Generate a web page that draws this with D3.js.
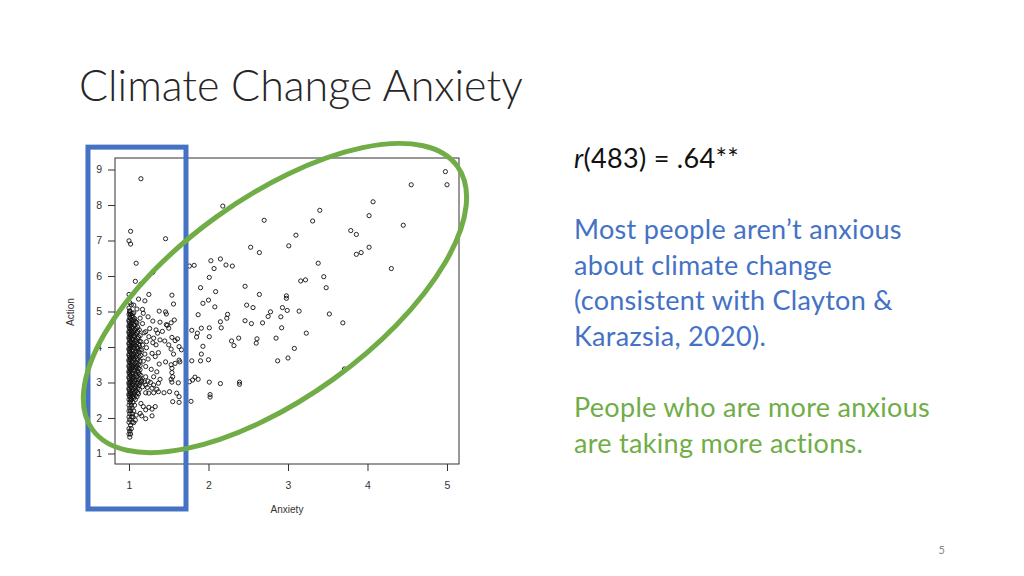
<!DOCTYPE html>
<html><head><meta charset="utf-8">
<script src="https://cdn.jsdelivr.net/npm/d3@7"></script>
<style>
html,body{margin:0;padding:0;background:#fff;}
svg{display:block;}
</style></head>
<body>
<svg id="c" width="1024" height="576"></svg>
<script>
// ---- data ----
const titleText = "Climate Change Anxiety";
const xLabel = "Anxiety";
const yLabel = "Action";
const xTicks = [1, 2, 3, 4, 5];
const yTicks = [1, 2, 3, 4, 5, 6, 7, 8, 9];
const xDomain = [0.824, 5.151];
const yDomain = [0.704, 9.324];

// scattered respondents (anxiety, action)
const sparsePoints = [
[2.18,7.97],[2.70,7.57],[3.40,7.85],[3.31,7.55],[3.10,7.15],[3.01,6.85],[2.53,6.81],[2.64,6.66],
[1.76,6.28],[1.82,6.30],[2.03,6.43],[2.15,6.48],[2.07,6.21],[2.22,6.31],[2.30,6.28],[2.01,5.96],
[3.38,6.36],[3.45,5.98],[3.16,5.86],[3.22,5.89],[1.90,5.67],[2.46,5.71],[4.98,8.94],[5.00,8.57],
[4.55,8.57],[4.07,8.09],[4.02,7.70],[4.45,7.43],[3.79,7.28],[3.86,7.17],[4.02,6.81],[3.86,6.61],
[3.92,6.66],[4.30,6.21],[3.48,5.67],[2.09,5.56],[2.64,5.48],[2.98,5.44],[2.98,5.37],[1.93,5.23],
[2.00,5.32],[2.08,5.13],[2.48,5.18],[2.56,5.11],[2.93,5.11],[2.99,5.03],[3.14,5.01],[2.78,4.99],
[2.75,4.86],[2.91,4.85],[1.87,4.91],[2.24,4.92],[2.23,4.81],[2.15,4.71],[2.46,4.74],[2.54,4.66],
[2.68,4.68],[1.79,4.47],[1.86,4.39],[1.85,4.28],[1.91,4.53],[2.01,4.54],[2.16,4.54],[2.92,4.54],
[2.01,4.29],[3.23,4.39],[2.29,4.17],[2.32,4.04],[2.38,4.25],[2.61,4.23],[2.60,4.11],[2.85,4.25],
[1.93,4.02],[3.08,3.96],[1.91,3.80],[1.79,3.61],[1.90,3.61],[2.00,3.64],[2.87,3.61],[3.00,3.69],
[1.83,3.15],[1.87,3.09],[1.76,3.02],[1.80,3.07],[2.01,3.01],[2.15,2.97],[2.39,3.01],[2.39,2.95],
[1.78,2.47],[2.02,2.66],[2.02,2.59],[3.52,4.93],[3.69,4.68],[3.71,3.38],
[1.15,8.74],[1.02,7.26],[1.00,6.99],[1.02,6.90],[1.46,7.05],[1.09,6.36],[1.30,6.10],[1.08,5.85],
[1.15,5.77],[1.00,5.48],[1.25,5.48],[1.54,5.46],[1.03,5.19],[1.06,5.18],[1.10,5.07],[1.17,5.06],
[1.56,5.21],[1.01,5.02],[1.04,4.95],[1.24,4.85],[1.38,5.01],[1.46,4.99],[1.47,4.93],[1.14,4.81],
[1.09,4.70],[1.30,4.73],[1.39,4.70],[1.47,4.63],[1.57,4.76],[1.53,4.68],[1.17,4.66],[1.21,4.43],
[1.34,4.48],[1.36,4.39],[1.42,4.44],[1.48,4.61],[1.50,4.53],[1.25,4.29],[1.31,4.25],[1.39,4.20],
[1.45,4.17],[1.54,4.27],[1.58,4.18],[1.15,4.15],[1.17,4.06],[1.22,4.15],[1.30,4.12],[1.34,4.06],
[1.50,4.06],[1.53,3.94],[1.61,4.23],[1.63,4.01],[1.66,3.92],[1.20,3.80],[1.29,3.82],[1.37,3.84],
[1.33,3.73],[1.56,3.80],[1.38,3.52],[1.46,3.58],[1.53,3.50],[1.58,3.54],[1.63,3.63],[1.64,3.58],
[1.21,3.45],[1.28,3.37],[1.35,3.30],[1.54,3.40],[1.54,3.28],[1.55,3.16],[1.21,3.16],[1.31,3.16],
[1.39,3.09],[1.53,3.09],[1.54,3.01],[1.62,2.99],[1.21,2.93],[1.31,2.93],[1.37,2.98],[1.29,2.84],
[1.35,2.81],[1.21,2.71],[1.25,2.70],[1.31,2.71],[1.37,2.74],[1.44,2.71],[1.51,2.74],[1.60,2.70],
[1.63,2.60],[1.55,2.46],[1.63,2.44],[1.15,2.41],[1.18,2.32],[1.21,2.23],[1.25,2.30],[1.29,2.25],
[1.33,2.32],[1.14,2.13],[1.16,2.06],[1.21,1.98],[1.29,2.06],[1.09,2.08],[1.06,1.87],[1.08,1.94],
[1.16,3.05],[1.19,3.02],[1.24,3.04],[1.27,3.00],[1.17,2.88],[1.23,2.86],[1.18,3.60],[1.24,3.66],
[1.16,3.92],[1.22,3.98],[1.19,4.40],[1.26,4.52],[1.18,4.95],[1.20,5.30],[1.12,5.35]
];

// dense column of respondents with minimal anxiety (anxiety, action)
const lowAnxietyPoints = [
[1.01,1.46],[1.00,1.55],[1.02,1.55],[1.01,1.63],[1.00,1.70],[1.03,1.70],[1.02,1.80],[1.00,1.88],[1.04,1.88],[1.01,1.95],
[1.00,2.03],[1.03,2.03],[1.05,2.03],[1.01,2.12],[1.04,2.12],[1.00,2.20],[1.02,2.20],[1.06,2.20],[1.01,2.28],[1.04,2.28],
[1.00,2.36],[1.03,2.36],[1.07,2.36],[1.01,2.44],[1.05,2.44],[1.02,2.48],[1.00,2.52],[1.03,2.52],[1.08,2.52],[1.01,2.60],
[1.05,2.60],[1.10,2.60],[1.00,2.68],[1.02,2.68],[1.06,2.68],[1.12,2.68],[1.01,2.76],[1.04,2.76],[1.09,2.76],[1.00,2.84],
[1.03,2.84],[1.07,2.84],[1.11,2.84],[1.01,2.92],[1.05,2.92],[1.09,2.92],[1.13,2.92],[1.00,3.00],[1.02,3.00],[1.06,3.00],
[1.10,3.00],[1.14,3.00],[1.01,3.08],[1.04,3.08],[1.08,3.08],[1.12,3.08],[1.00,3.16],[1.03,3.16],[1.06,3.16],[1.10,3.16],
[1.01,3.24],[1.05,3.24],[1.09,3.24],[1.13,3.24],[1.00,3.32],[1.02,3.32],[1.07,3.32],[1.11,3.32],[1.01,3.40],[1.04,3.40],
[1.08,3.40],[1.12,3.40],[1.00,3.48],[1.03,3.48],[1.06,3.48],[1.10,3.48],[1.14,3.48],[1.01,3.56],[1.05,3.56],[1.09,3.56],
[1.00,3.64],[1.02,3.64],[1.07,3.64],[1.11,3.64],[1.01,3.72],[1.04,3.72],[1.08,3.72],[1.13,3.72],[1.00,3.80],[1.03,3.80],
[1.06,3.80],[1.10,3.80],[1.01,3.88],[1.05,3.88],[1.09,3.88],[1.12,3.88],[1.00,3.96],[1.02,3.96],[1.07,3.96],[1.11,3.96],
[1.01,4.04],[1.04,4.04],[1.08,4.04],[1.13,4.04],[1.00,4.12],[1.03,4.12],[1.06,4.12],[1.10,4.12],[1.01,4.20],[1.05,4.20],
[1.09,4.20],[1.00,4.28],[1.02,4.28],[1.07,4.28],[1.12,4.28],[1.01,4.36],[1.04,4.36],[1.08,4.36],[1.00,4.44],[1.03,4.44],
[1.06,4.44],[1.11,4.44],[1.01,4.52],[1.05,4.52],[1.09,4.52],[1.00,4.60],[1.02,4.60],[1.07,4.60],[1.01,4.68],[1.04,4.68],
[1.10,4.68],[1.00,4.76],[1.03,4.76],[1.06,4.76],[1.01,4.84],[1.05,4.84],[1.00,4.92],[1.02,4.92],[1.01,5.00],[1.00,5.10],
[1.01,5.25],
[1.02,2.56],[1.06,2.56],[1.00,2.64],[1.04,2.64],[1.08,2.64],[1.02,2.72],[1.07,2.72],[1.11,2.72],[1.00,2.80],[1.05,2.80],
[1.13,2.80],[1.02,2.88],[1.08,2.88],[1.00,2.96],[1.04,2.96],[1.11,2.96],[1.02,3.04],[1.07,3.04],[1.16,3.04],[1.00,3.12],
[1.05,3.12],[1.14,3.12],[1.02,3.20],[1.08,3.20],[1.15,3.20],[1.00,3.28],[1.04,3.28],[1.12,3.28],[1.02,3.36],[1.06,3.36],
[1.14,3.36],[1.00,3.44],[1.05,3.44],[1.09,3.44],[1.02,3.52],[1.07,3.52],[1.12,3.52],[1.00,3.60],[1.04,3.60],[1.14,3.60],
[1.02,3.68],[1.06,3.68],[1.10,3.68],[1.00,3.76],[1.05,3.76],[1.15,3.76],[1.02,3.84],[1.08,3.84],[1.13,3.84],[1.00,3.92],
[1.04,3.92],[1.14,3.92],[1.02,4.00],[1.06,4.00],[1.10,4.00],[1.00,4.08],[1.05,4.08],[1.12,4.08],[1.02,4.16],[1.08,4.16],
[1.13,4.16],[1.00,4.24],[1.04,4.24],[1.11,4.24],[1.02,4.32],[1.06,4.32],[1.14,4.32],[1.00,4.40],[1.05,4.40],[1.10,4.40],
[1.02,4.48],[1.07,4.48],[1.13,4.48],[1.00,4.56],[1.04,4.56],[1.11,4.56],[1.02,4.64],[1.06,4.64],[1.00,4.72],[1.08,4.72],
[1.02,4.80],[1.07,4.80],[1.04,4.88],[1.01,4.96],[1.06,4.96]
];

// annotations (data coordinates for centre / extents)
const blueBox = {x0: 0.484, x1: 1.717, y0: -0.563, y1: 9.63};
const greenEllipse = {cx: 2.836, cy: 5.38, rxPx: 225, ryPx: 100, angle: -35.8};

const statLine = {italic: "r", rest: "(483) = .64**"};
const blueLines = ["Most people aren\u2019t anxious", "about climate change", "(consistent with Clayton &", "Karazsia, 2020)."];
const greenLines = ["People who are more anxious", "are taking more actions."];
const pageNumber = "5";

// ---- drawing ----
const svg = d3.select("#c");
const x = d3.scaleLinear().domain(xDomain).range([115, 459]);
const y = d3.scaleLinear().domain(yDomain).range([464, 158]);
const axisColor = "#333";
const axisFont = "'Liberation Sans', Arial, sans-serif";

svg.append("text").attr("x", 79).attr("y", 101)
  .attr("font-family", "Lato, 'Open Sans', sans-serif").attr("font-weight", 300)
  .attr("font-size", 43).attr("fill", "#262626").text(titleText);

// plot box
svg.append("rect").attr("x", x(xDomain[0])).attr("y", y(yDomain[1]))
  .attr("width", x(xDomain[1]) - x(xDomain[0])).attr("height", y(yDomain[0]) - y(yDomain[1]))
  .attr("fill", "none").attr("stroke", axisColor).attr("stroke-width", 1);

const gx = svg.append("g").attr("transform", `translate(0,${y(yDomain[0])})`)
  .call(d3.axisBottom(x).tickValues(xTicks).tickSize(7).tickPadding(11).tickFormat(d3.format("d")));
const gy = svg.append("g").attr("transform", `translate(${x(xDomain[0])},0)`)
  .call(d3.axisLeft(y).tickValues(yTicks).tickSize(7).tickPadding(6).tickFormat(d3.format("d")));
[gx, gy].forEach(g => {
  g.select(".domain").remove();
  g.selectAll("line").attr("stroke", axisColor);
  g.selectAll("text").attr("font-family", axisFont).attr("font-size", 10.5).attr("fill", "#333");
});

svg.append("text").attr("x", 287).attr("y", 513).attr("text-anchor", "middle")
  .attr("font-family", axisFont).attr("font-size", 10).attr("fill", "#333").text(xLabel);
svg.append("text").attr("transform", "translate(74,312) rotate(-90)").attr("text-anchor", "middle")
  .attr("font-family", axisFont).attr("font-size", 10).attr("fill", "#333").text(yLabel);

const allPts = sparsePoints.concat(lowAnxietyPoints);
svg.append("g").selectAll("circle").data(allPts).join("circle")
  .attr("cx", d => x(d[0])).attr("cy", d => y(d[1])).attr("r", 2.1)
  .attr("fill", "none").attr("stroke", "#111").attr("stroke-width", 0.9);

// annotations
svg.append("rect").attr("x", x(blueBox.x0)).attr("y", y(blueBox.y1))
  .attr("width", x(blueBox.x1) - x(blueBox.x0)).attr("height", y(blueBox.y0) - y(blueBox.y1))
  .attr("fill", "none").attr("stroke", "#4472C4").attr("stroke-width", 5);
svg.append("ellipse")
  .attr("transform", `translate(${x(greenEllipse.cx)},${y(greenEllipse.cy)}) rotate(${greenEllipse.angle})`)
  .attr("rx", greenEllipse.rxPx).attr("ry", greenEllipse.ryPx)
  .attr("fill", "none").attr("stroke", "#70AD47").attr("stroke-width", 5);

// right-hand text
const tf = "Lato, 'Open Sans', sans-serif";
const fs = 27, ls = 0.3;
const st = svg.append("text").attr("x", 574).attr("y", 168).attr("font-family", tf)
  .attr("font-size", fs).attr("letter-spacing", ls).attr("fill", "#111");
st.append("tspan").attr("font-style", "italic").text(statLine.italic);
st.append("tspan").text(statLine.rest);

svg.append("g").selectAll("text").data(blueLines).join("text")
  .attr("x", 574).attr("y", (d, i) => 239 + i * 35.5).attr("font-family", tf)
  .attr("font-size", fs).attr("letter-spacing", ls).attr("fill", "#4472C4").text(d => d);
svg.append("g").selectAll("text").data(greenLines).join("text")
  .attr("x", 574).attr("y", (d, i) => 417 + i * 35.5).attr("font-family", tf)
  .attr("font-size", fs).attr("letter-spacing", ls).attr("fill", "#70AD47").text(d => d);

svg.append("text").attr("x", 945).attr("y", 554).attr("text-anchor", "end")
  .attr("font-family", tf).attr("font-size", 11).attr("fill", "#888").text(pageNumber);
</script>
</body></html>
